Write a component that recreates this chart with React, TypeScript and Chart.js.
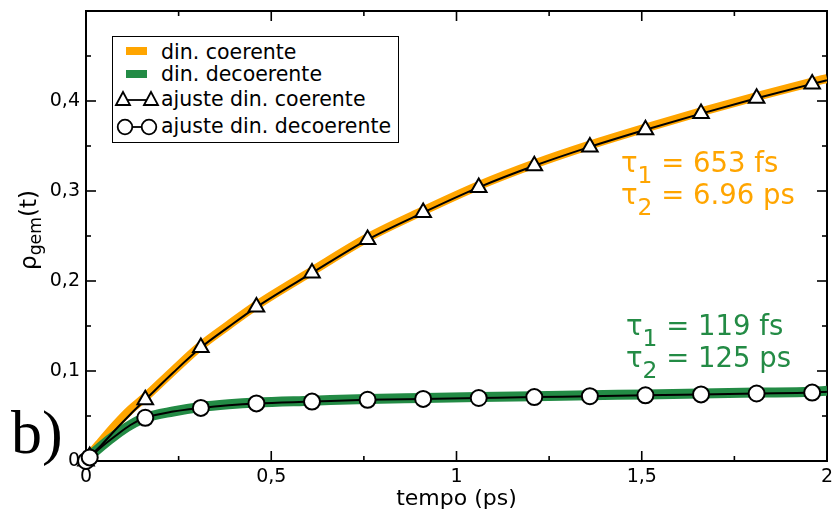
import React, { useEffect, useRef } from 'react';
import { Chart, registerables } from 'chart.js';

Chart.register(...registerables);

// time axis of the curves (ps)
const curveT = [0, 0.01, 0.04, 0.08, 0.12, 0.16, 0.235, 0.31, 0.385, 0.46, 0.61, 0.76, 0.91, 1.06, 1.21, 1.36, 1.51, 1.66, 1.81, 1.96, 2.0];
// simulated dynamics (thick coloured bands)
const dinCoerente = [0, 0.006, 0.021, 0.04, 0.057, 0.071, 0.1, 0.128, 0.151, 0.173, 0.211, 0.248, 0.278, 0.306, 0.33, 0.351, 0.37, 0.388, 0.405, 0.421, 0.425];
const dinDecoerente = [0, 0.005, 0.016, 0.029, 0.04, 0.048, 0.055, 0.06, 0.063, 0.065, 0.067, 0.069, 0.07, 0.071, 0.072, 0.073, 0.074, 0.075, 0.076, 0.077, 0.078];
// fitted curves (thin black lines)
const ajusteCoerente = [0, 0.005, 0.017, 0.035, 0.052, 0.068, 0.098, 0.126, 0.149, 0.171, 0.209, 0.246, 0.276, 0.304, 0.328, 0.349, 0.368, 0.386, 0.403, 0.419, 0.423];
const ajusteDecoerente = [0, 0.004, 0.015, 0.028, 0.04, 0.048, 0.055, 0.059, 0.062, 0.064, 0.066, 0.068, 0.069, 0.07, 0.071, 0.072, 0.073, 0.074, 0.075, 0.076, 0.077];
// symbols of the fits
const markerT = [0, 0.01, 0.16, 0.31, 0.46, 0.61, 0.76, 0.91, 1.06, 1.21, 1.36, 1.51, 1.66, 1.81, 1.96];
const markerCoerente = [0, 0.005, 0.068, 0.126, 0.171, 0.209, 0.246, 0.276, 0.304, 0.328, 0.349, 0.368, 0.386, 0.403, 0.419];
const markerDecoerente = [0, 0.004, 0.048, 0.059, 0.064, 0.066, 0.068, 0.069, 0.07, 0.071, 0.072, 0.073, 0.074, 0.075, 0.076];

const legendLabels = ['din. coerente', 'din. decoerente', 'ajuste din. coerente', 'ajuste din. decoerente'];
const tauCoerente = ['653 fs', '6.96 ps'];
const tauDecoerente = ['119 fs', '125 ps'];

const ORANGE = '#FFA500';
const GREEN = '#238B45';
const FONT = '"DejaVu Sans", sans-serif';

const pts = (xs: number[], ys: number[]) => xs.map((x, i) => ({ x, y: ys[i] }));
const fmt = (v: number) => String(Math.round(v * 100) / 100).replace('.', ',');

const framePlugin = {
  id: 'frame',
  beforeDatasetsDraw(chart: any) {
    const { ctx, chartArea } = chart;
    const { left, right, top, bottom } = chartArea;
    const xs = chart.scales.x;
    const ys = chart.scales.y;
    ctx.save();
    ctx.strokeStyle = '#000';
    ctx.lineWidth = 1.6;
    const tick = (x1: number, y1: number, x2: number, y2: number) => {
      ctx.beginPath();
      ctx.moveTo(x1, y1);
      ctx.lineTo(x2, y2);
      ctx.stroke();
    };
    const xt = xs.ticks.map((t: any) => t.value);
    for (let i = 0; i < xt.length; i++) {
      const v = xt[i];
      const p = xs.getPixelForValue(v);
      if (i > 0 && i < xt.length - 1) {
        tick(p, bottom, p, bottom - 10);
        tick(p, top, p, top + 10);
      }
      if (i < xt.length - 1) {
        const m = xs.getPixelForValue((v + xt[i + 1]) / 2);
        tick(m, bottom, m, bottom - 5);
        tick(m, top, m, top + 5);
      }
    }
    const yt = ys.ticks.map((t: any) => t.value);
    for (let i = 0; i < yt.length; i++) {
      const v = yt[i];
      const p = ys.getPixelForValue(v);
      if (i > 0 && i < yt.length - 1) {
        tick(left, p, left + 10, p);
        tick(right, p, right - 10, p);
      }
      if (i < yt.length - 1) {
        const m = ys.getPixelForValue((v + yt[i + 1]) / 2);
        tick(left, m, left + 5, m);
        tick(right, m, right - 5, m);
      }
    }
    ctx.lineWidth = 2;
    ctx.strokeRect(left, top, right - left, bottom - top);
    ctx.restore();
  },
};

function Tau({ color, left, top, values }: { color: string; left: number; top: number; values: string[] }) {
  return (
    <>
      {values.map((v, i) => (
        <div
          key={i}
          style={{
            position: 'absolute',
            left,
            top: top + i * 32,
            color,
            fontFamily: FONT,
            fontSize: 27.5,
            lineHeight: '27px',
            whiteSpace: 'nowrap',
          }}
        >
          τ<span style={{ position: 'relative', top: '0.45em', fontSize: '0.85em' }}>{i + 1}</span> = {v}
        </div>
      ))}
    </>
  );
}

export default function App() {
  const canvasRef = useRef<HTMLCanvasElement | null>(null);

  useEffect(() => {
    document.body.style.margin = '0';
    const canvas = canvasRef.current;
    if (!canvas) return;
    const tickFont = { family: FONT, size: 19 };
    const chart = new Chart(canvas, {
      type: 'line',
      data: {
        datasets: [
          {
            label: legendLabels[0],
            data: pts(curveT, dinCoerente),
            borderColor: ORANGE,
            borderWidth: 9,
            pointRadius: 0,
            cubicInterpolationMode: 'monotone',
            order: 6,
          },
          {
            label: legendLabels[1],
            data: pts(curveT, dinDecoerente),
            borderColor: GREEN,
            borderWidth: 10,
            pointRadius: 0,
            cubicInterpolationMode: 'monotone',
            order: 5,
          },
          {
            label: legendLabels[2] + ' (linha)',
            data: pts(curveT, ajusteCoerente),
            borderColor: '#000',
            borderWidth: 2,
            pointRadius: 0,
            cubicInterpolationMode: 'monotone',
            order: 4,
          },
          {
            label: legendLabels[3] + ' (linha)',
            data: pts(curveT, ajusteDecoerente),
            borderColor: '#000',
            borderWidth: 2,
            pointRadius: 0,
            cubicInterpolationMode: 'monotone',
            order: 3,
          },
          {
            label: legendLabels[2],
            data: pts(markerT, markerCoerente),
            showLine: false,
            pointStyle: 'triangle',
            pointRadius: 9,
            pointBackgroundColor: '#fff',
            pointBorderColor: '#000',
            pointBorderWidth: 2,
            clip: false,
            order: 2,
          },
          {
            label: legendLabels[3],
            data: pts(markerT, markerDecoerente),
            showLine: false,
            pointStyle: 'circle',
            pointRadius: 8,
            pointBackgroundColor: '#fff',
            pointBorderColor: '#000',
            pointBorderWidth: 2,
            clip: false,
            order: 1,
          },
        ],
      } as any,
      options: {
        animation: false,
        responsive: false,
        devicePixelRatio: 1,
        layout: { padding: { left: 0, right: 6, top: 10, bottom: 0 } },
        plugins: { legend: { display: false }, tooltip: { enabled: false } },
        scales: {
          x: {
            type: 'linear',
            min: 0,
            max: 2,
            afterFit: (s: any) => {
              s.height = 56;
              s.paddingLeft = 0;
              s.paddingRight = 0;
            },
            grid: { display: false, drawTicks: false },
            border: { display: false },
            ticks: {
              stepSize: 0.5,
              autoSkip: false,
              maxRotation: 0,
              padding: 5,
              color: '#000',
              font: tickFont,
              callback: (v: any) => fmt(Number(v)),
            },
            title: {
              display: true,
              text: 'tempo (ps)',
              color: '#000',
              font: { family: FONT, size: 22 },
              padding: { top: 0, bottom: 5 },
            },
          },
          y: {
            type: 'linear',
            min: 0,
            max: 0.5,
            afterFit: (s: any) => {
              s.width = 86;
              s.paddingTop = 0;
              s.paddingBottom = 0;
            },
            grid: { display: false, drawTicks: false },
            border: { display: false },
            ticks: {
              stepSize: 0.1,
              padding: 6,
              color: '#000',
              font: tickFont,
              callback: (v: any) => (Number(v) >= 0.5 ? '' : fmt(Number(v))),
            },
          },
        },
      } as any,
      plugins: [framePlugin],
    });
    return () => chart.destroy();
  }, []);

  const textStyle: React.CSSProperties = {
    position: 'absolute',
    left: 161,
    fontFamily: FONT,
    fontSize: 20.5,
    lineHeight: '22px',
    whiteSpace: 'nowrap',
    color: '#000',
  };

  return (
    <div style={{ position: 'relative', width: 838, height: 517, background: '#fff' }}>
      <canvas ref={canvasRef} width={838} height={517} style={{ width: 838, height: 517, display: 'block' }} />
      {/* legend */}
      <div
        style={{
          position: 'absolute',
          left: 112,
          top: 36,
          width: 287,
          height: 107,
          border: '1.5px solid #000',
          boxSizing: 'border-box',
          background: '#fff',
        }}
      />
      <div style={{ position: 'absolute', left: 126, top: 47, width: 21, height: 8, background: ORANGE }} />
      <div style={{ position: 'absolute', left: 126, top: 70, width: 21, height: 8, background: GREEN }} />
      <svg style={{ position: 'absolute', left: 114, top: 88 }} width={46} height={50}>
        <line x1={9} y1={12} x2={37} y2={12} stroke="#000" strokeWidth={1.8} />
        <polygon points="2,17 9,4 16,17" fill="#fff" stroke="#000" strokeWidth={1.8} />
        <polygon points="30,17 37,4 44,17" fill="#fff" stroke="#000" strokeWidth={1.8} />
        <line x1={11} y1={39} x2={35} y2={39} stroke="#000" strokeWidth={1.8} />
        <circle cx={11} cy={39} r={7.3} fill="#fff" stroke="#000" strokeWidth={1.8} />
        <circle cx={35} cy={39} r={7.3} fill="#fff" stroke="#000" strokeWidth={1.8} />
      </svg>
      <div style={{ ...textStyle, top: 40.5 }}>{legendLabels[0]}</div>
      <div style={{ ...textStyle, top: 63 }}>{legendLabels[1]}</div>
      <div style={{ ...textStyle, top: 88 }}>{legendLabels[2]}</div>
      <div style={{ ...textStyle, top: 114.5 }}>{legendLabels[3]}</div>

      {/* annotations */}
      <Tau color={ORANGE} left={621} top={149} values={tauCoerente} />
      <Tau color={GREEN} left={626} top={312} values={tauDecoerente} />

      {/* y-axis title */}
      <div
        style={{
          position: 'absolute',
          left: 29,
          top: 230,
          transform: 'translate(-50%, -50%) rotate(-90deg)',
          fontFamily: FONT,
          fontSize: 23,
          lineHeight: '26px',
          whiteSpace: 'nowrap',
          color: '#000',
        }}
      >
        ρ<span style={{ position: 'relative', top: '0.3em', fontSize: '0.75em' }}>gem</span>(t)
      </div>

      {/* panel label */}
      <div
        style={{
          position: 'absolute',
          left: 11,
          top: 401,
          fontFamily: '"Liberation Serif", serif',
          fontSize: 62,
          lineHeight: '62px',
          color: '#000',
        }}
      >
        b)
      </div>
    </div>
  );
}
